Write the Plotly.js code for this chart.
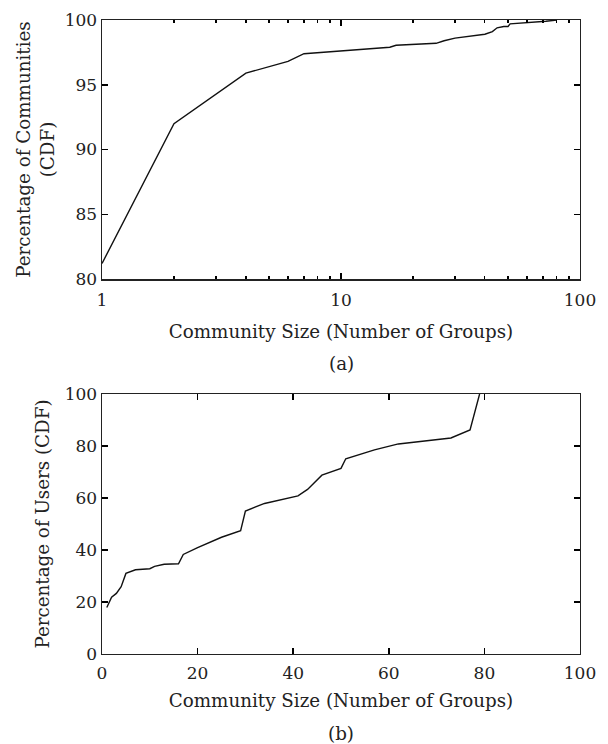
<!DOCTYPE html>
<html>
<head>
<meta charset="utf-8">
<script src="https://cdn.plot.ly/plotly-3.0.1.min.js"></script>
<style>html,body{margin:0;padding:0;background:#fff;}#chart{width:608px;height:744px;}</style>
</head>
<body>
<div id="chart"></div>
<script>
// Panel (a): CDF of community size (log x)
const sizesA = [1, 2, 4, 5, 6, 7, 10, 13, 16, 17, 25, 27, 30, 40, 43, 45, 48, 50, 51, 72, 80];
const cdfCommunities = [81.2, 92.0, 95.9, 96.4, 96.8, 97.4, 97.6, 97.8, 97.9, 98.05, 98.2, 98.4, 98.6, 98.9, 99.1, 99.4, 99.5, 99.5, 99.7, 99.9, 100];
// Panel (b): CDF of users by community size (linear x)
const sizesB = [1, 2, 3, 4, 5, 6, 7, 10, 11, 13, 16, 17, 20, 25, 29, 30, 34, 41, 43, 46, 50, 51, 57, 62, 73, 77, 79];
const cdfUsers = [17.9, 21.8, 23.3, 25.9, 31.0, 31.8, 32.4, 32.8, 33.7, 34.5, 34.7, 38.3, 40.9, 44.9, 47.4, 55.0, 57.9, 60.8, 63.3, 68.8, 71.4, 75.1, 78.5, 80.8, 83.1, 86.2, 100];

const tickValsA = [80, 85, 90, 95, 100];
const tickValsB = [0, 20, 40, 60, 80, 100];
const logMinor = [2,3,4,5,6,7,8,9,20,30,40,50,60,70,80,90];

const FONT = "DejaVu Serif, serif";
const INK = "#222";

const baseAxis = {
  showgrid: false, zeroline: false, showline: true, linecolor: INK, linewidth: 1.5,
  mirror: "allticks", ticks: "inside", ticklen: 6, tickwidth: 1.5, tickcolor: "#000",
  tickfont: {family: FONT, size: 17, color: INK}, automargin: false
};

const traces = [
  {x: sizesA, y: cdfCommunities, type: "scatter", mode: "lines", xaxis: "x", yaxis: "y",
   line: {color: "#111", width: 1.4}, showlegend: false},
  {x: sizesB, y: cdfUsers, type: "scatter", mode: "lines", xaxis: "x2", yaxis: "y2",
   line: {color: "#111", width: 1.4}, showlegend: false}
];

const layout = {
  width: 608, height: 744,
  margin: {l: 0, r: 0, t: 0, b: 0},
  paper_bgcolor: "#fff", plot_bgcolor: "rgba(0,0,0,0)",
  font: {family: FONT, color: INK},
  showlegend: false,
  xaxis: Object.assign({}, baseAxis, {
    type: "log", range: [0, 2], domain: [0.1678, 0.9539], anchor: "y",
    tickvals: [1, 10, 100], ticktext: ["1", "10", "100"], ticklabelstandoff: 5,
    minor: {tickvals: logMinor, ticks: "inside", ticklen: 3, tickwidth: 1.2, tickcolor: "#000", showgrid: false},
    title: {text: "Community Size (Number of Groups)", font: {family: FONT, size: 18.3, color: INK}, standoff: 16}
  }),
  yaxis: Object.assign({}, baseAxis, {
    range: [80, 100], domain: [0.625, 0.9731], anchor: "x",
    tickvals: tickValsA,
    title: {text: "Percentage of Communities<br>(CDF)", font: {family: FONT, size: 18.3, color: INK}, standoff: 5}
  }),
  xaxis2: Object.assign({}, baseAxis, {
    range: [0, 100], domain: [0.1678, 0.9539], anchor: "y2",
    tickvals: tickValsB, ticklabelstandoff: 3,
    title: {text: "Community Size (Number of Groups)", font: {family: FONT, size: 18.3, color: INK}, standoff: 12}
  }),
  yaxis2: Object.assign({}, baseAxis, {
    range: [0, 100], domain: [0.121, 0.4704], anchor: "x2",
    tickvals: tickValsB,
    title: {text: "Percentage of Users (CDF)", font: {family: FONT, size: 18.3, color: INK}, standoff: 10}
  }),
  annotations: [
    {text: "(a)", xref: "paper", yref: "paper", x: 0.561, y: 1 - 363/744, showarrow: false,
     font: {family: FONT, size: 18.3, color: INK}, xanchor: "center", yanchor: "middle"},
    {text: "(b)", xref: "paper", yref: "paper", x: 0.561, y: 1 - 733/744, showarrow: false,
     font: {family: FONT, size: 18.3, color: INK}, xanchor: "center", yanchor: "middle"}
  ]
};

Plotly.newPlot("chart", traces, layout, {displayModeBar: false, staticPlot: true});
</script>
</body>
</html>
